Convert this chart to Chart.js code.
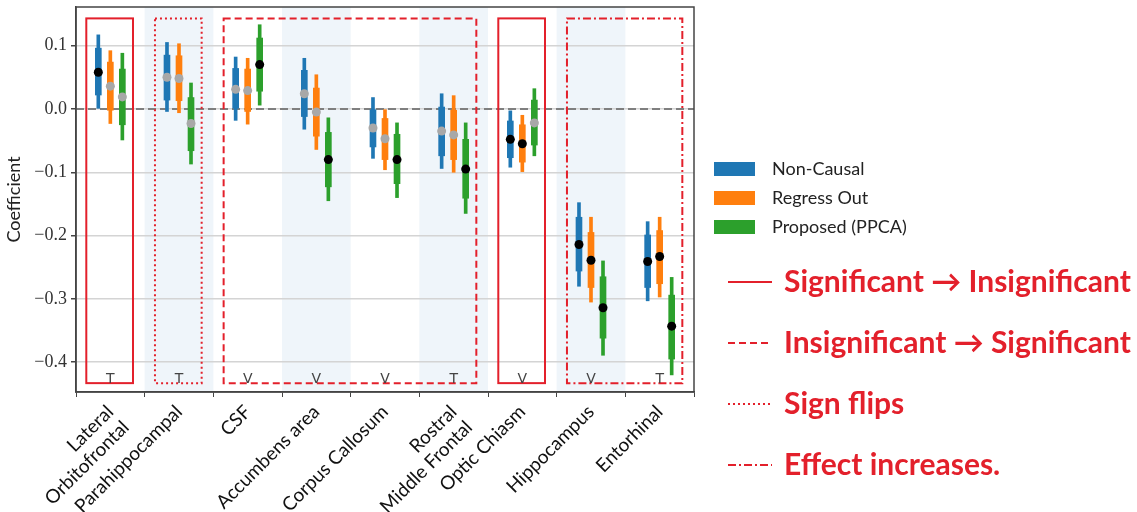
<!DOCTYPE html>
<html>
<head>
<meta charset="utf-8">
<script src="https://cdn.jsdelivr.net/npm/chart.js@4.4.1/dist/chart.umd.min.js"></script>
<style>
  html, body { margin: 0; padding: 0; background: #fff; }
</style>
</head>
<body>
<canvas id="chart" width="1137" height="512"></canvas>
<script>
// regions along the x axis
const categories = [
  ["Lateral", "Orbitofrontal"], "Parahippocampal", "CSF", "Accumbens area",
  "Corpus Callosum", ["Rostral", "Middle Frontal"], "Optic Chiasm", "Hippocampus", "Entorhinal"
];
const yTicks = [0.1, 0.0, -0.1, -0.2, -0.3, -0.4];

const seriesNames = ["Non-Causal", "Regress Out", "Proposed (PPCA)"];
const seriesColors = ["#1f77b4", "#ff7f0e", "#2ca02c"];

// point estimates
const nonCausalMean = [0.058, 0.050, 0.031, 0.024, -0.030, -0.035, -0.048, -0.214, -0.241];
const regressMean   = [0.036, 0.048, 0.029, -0.005, -0.047, -0.041, -0.055, -0.239, -0.233];
const ppcaMean      = [0.019, -0.023, 0.070, -0.080, -0.080, -0.095, -0.022, -0.314, -0.343];

// outer interval (thin line)
const nonCausalOuter = [[0.001, 0.117], [-0.004, 0.105], [-0.018, 0.082], [-0.032, 0.080], [-0.078, 0.018], [-0.094, 0.024], [-0.092, -0.003], [-0.280, -0.148], [-0.303, -0.178]];
const regressOuter   = [[-0.023, 0.092], [-0.006, 0.103], [-0.024, 0.080], [-0.064, 0.054], [-0.096, 0.000], [-0.100, 0.021], [-0.099, -0.010], [-0.305, -0.171], [-0.297, -0.171]];
const ppcaOuter      = [[-0.049, 0.088], [-0.087, 0.041], [0.006, 0.133], [-0.145, -0.014], [-0.140, -0.022], [-0.165, -0.022], [-0.074, 0.032], [-0.389, -0.240], [-0.420, -0.266]];

// inner interval (thick bar)
const nonCausalInner = [[0.022, 0.096], [0.014, 0.085], [0.000, 0.064], [-0.012, 0.061], [-0.060, 0.000], [-0.074, 0.003], [-0.077, -0.019], [-0.256, -0.171], [-0.282, -0.199]];
const regressInner   = [[-0.002, 0.074], [0.013, 0.084], [-0.004, 0.063], [-0.043, 0.033], [-0.080, -0.015], [-0.080, -0.002], [-0.084, -0.025], [-0.282, -0.195], [-0.276, -0.192]];
const ppcaInner      = [[-0.025, 0.063], [-0.066, 0.018], [0.028, 0.112], [-0.123, -0.037], [-0.118, -0.040], [-0.141, -0.048], [-0.057, 0.014], [-0.362, -0.265], [-0.395, -0.294]];

// 1 = significant (black dot), 0 = not (grey dot)
const nonCausalSig = [1, 0, 0, 0, 0, 0, 1, 1, 1];
const regressSig   = [0, 0, 0, 0, 0, 0, 1, 1, 1];
const ppcaSig      = [0, 0, 1, 1, 1, 1, 0, 1, 1];

// shaded columns and annotation boxes
const shadedCols = [1, 3, 5, 7];
const boxFrom  = [0, 1, 2, 6, 7];
const boxTo    = [0, 1, 5, 6, 8];
const boxStyle = ["solid", "dotted", "dashed", "solid", "dashdot"];
const boxTop = 0.143, boxBottom = -0.433;
const markers = ["T", "T", "V", "V", "V", "T", "V", "V", "T"];

const legendLabels = [
  "Significant \u2192 Insignificant",
  "Insignificant \u2192 Significant",
  "Sign flips",
  "Effect increases."
];
const legendStyles = ["solid", "dashed", "dotted", "dashdot"];

const RED = "#e3202b";
const dashes = { solid: [], dashed: [7, 4], dotted: [2, 3], dashdot: [8, 3, 2, 3] };
const offsets = [-0.175, 0, 0.175];

const means = [nonCausalMean, regressMean, ppcaMean];
const outers = [nonCausalOuter, regressOuter, ppcaOuter];
const inners = [nonCausalInner, regressInner, ppcaInner];
const sigs = [nonCausalSig, regressSig, ppcaSig];

const datasets = [{
  type: "line",
  data: [{ x: -0.5, y: 0 }, { x: 8.5, y: 0 }],
  borderColor: "#7f7f7f", borderWidth: 2, borderDash: [8, 4],
  pointRadius: 0, order: 10
}];
for (let k = 0; k < 3; k++) {
  datasets.push({
    type: "bar",
    data: outers[k].map((r, i) => ({ x: i + offsets[k], y: r })),
    backgroundColor: seriesColors[k], barThickness: 3, grouped: false, order: 6
  });
  datasets.push({
    type: "bar",
    data: inners[k].map((r, i) => ({ x: i + offsets[k], y: r })),
    backgroundColor: seriesColors[k], barThickness: 6, grouped: false, order: 5
  });
}
for (let k = 0; k < 3; k++) {
  datasets.push({
    type: "line",
    data: means[k].map((v, i) => ({ x: i + offsets[k], y: v })),
    showLine: false,
    pointRadius: 4.5,
    pointBorderWidth: 0,
    pointBackgroundColor: sigs[k].map(s => s ? "#000000" : "#a8a8a8"),
    order: 0
  });
}

const decorations = {
  id: "decorations",
  beforeDraw(chart) {
    const { ctx, chartArea, scales: { x } } = chart;
    ctx.save();
    ctx.fillStyle = "rgba(31,119,180,0.07)";
    shadedCols.forEach(i => {
      const x0 = x.getPixelForValue(i - 0.5), x1 = x.getPixelForValue(i + 0.5);
      ctx.fillRect(x0, chartArea.top, x1 - x0, chartArea.bottom - chartArea.top);
    });
    ctx.restore();
  },
  afterDatasetsDraw(chart) {
    const { ctx, scales: { x, y } } = chart;
    ctx.save();
    ctx.strokeStyle = RED;
    ctx.lineWidth = 2;
    boxFrom.forEach((f, b) => {
      const x0 = x.getPixelForValue(f - 0.35), x1 = x.getPixelForValue(boxTo[b] + 0.33);
      const y0 = y.getPixelForValue(boxTop), y1 = y.getPixelForValue(boxBottom);
      ctx.setLineDash(dashes[boxStyle[b]]);
      ctx.strokeRect(x0, y0, x1 - x0, y1 - y0);
    });
    ctx.setLineDash([]);
    ctx.fillStyle = "#444";
    ctx.font = "14px 'DejaVu Sans'";
    ctx.textAlign = "center";
    ctx.textBaseline = "middle";
    markers.forEach((m, i) => ctx.fillText(m, x.getPixelForValue(i), y.getPixelForValue(-0.427)));
    ctx.restore();
  },
  afterDraw(chart) {
    const { ctx, chartArea } = chart;
    ctx.save();
    // frame
    ctx.strokeStyle = "#444";
    ctx.lineWidth = 1.5;
    ctx.strokeRect(chartArea.left, chartArea.top, chartArea.right - chartArea.left, chartArea.bottom - chartArea.top);
    // series legend
    ctx.font = "18px Lato";
    ctx.textBaseline = "middle";
    seriesNames.forEach((n, k) => {
      const cy = 169 + k * 29;
      ctx.fillStyle = seriesColors[k];
      ctx.fillRect(714, cy - 7, 41, 14);
      ctx.fillStyle = "#222";
      ctx.fillText(n, 772, cy);
    });
    // annotation legend
    ctx.font = "bold 30px Lato";
    ctx.strokeStyle = RED;
    ctx.fillStyle = RED;
    ctx.lineWidth = 2;
    legendLabels.forEach((t, r) => {
      const cy = 282 + r * 61;
      ctx.setLineDash(dashes[legendStyles[r]]);
      ctx.beginPath();
      ctx.moveTo(728, cy);
      ctx.lineTo(772, cy);
      ctx.stroke();
      ctx.fillText(t, 784, cy);
    });
    ctx.restore();
  }
};

new Chart(document.getElementById("chart").getContext("2d"), {
  type: "bar",
  data: { datasets },
  options: {
    responsive: false,
    animation: false,
    devicePixelRatio: 1,
    layout: { padding: { top: 7, right: 443, left: 0, bottom: 0 } },
    plugins: { legend: { display: false }, tooltip: { enabled: false } },
    scales: {
      x: {
        type: "linear", min: -0.5, max: 8.5, offset: false,
        afterBuildTicks: s => { s.ticks = categories.map((c, i) => ({ value: i })); },
        afterFit: s => { s.height = 120; s.paddingLeft = 0; s.paddingRight = 0; },
        ticks: {
          autoSkip: false, minRotation: 45, maxRotation: 45, padding: 4,
          color: "#111", font: { family: "Lato", size: 19, lineHeight: 1.15 },
          callback: v => categories[v]
        },
        grid: { drawOnChartArea: false, drawTicks: true, tickLength: 5, color: "#444" },
        border: { display: true, color: "#444", width: 1.5 }
      },
      y: {
        min: -0.447, max: 0.161,
        afterBuildTicks: s => { s.ticks = yTicks.map(v => ({ value: v })); },
        afterFit: s => { s.width = 76; s.paddingTop = 0; s.paddingBottom = 0; },
        ticks: {
          padding: 4, color: "#333",
          font: { family: "'Liberation Serif'", size: 18 },
          callback: v => v.toFixed(1).replace("-", "\u2212").replace("\u22120.0", "0.0")
        },
        grid: { color: "#d4d4d4", lineWidth: 1.5, tickColor: "#444", tickLength: 5 },
        border: { display: true, color: "#444", width: 1.5 },
        title: {
          display: true, text: "Coefficient", color: "#222",
          font: { family: "Lato", size: 18 }, padding: { top: 3, bottom: 0 }
        }
      }
    }
  },
  plugins: [decorations]
});
</script>
</body>
</html>
